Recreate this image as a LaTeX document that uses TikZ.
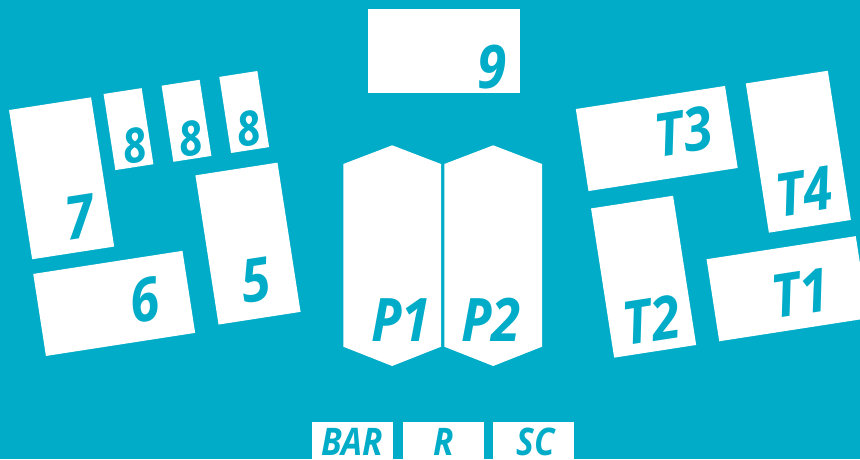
\documentclass[tikz,border=0pt]{standalone}
\usepackage{fontspec}
\setmainfont{Open Sans}
\definecolor{bg}{RGB}{0,172,199}
\tikzset{
  tile/.style={fill=white, draw=none, inner sep=0pt, minimum width=#1},
  tall/.style={fill=white, inner sep=0pt, minimum width=83pt, minimum height=151pt, rotate=8.8},
  wide/.style={fill=white, inner sep=0pt, minimum width=151pt, minimum height=83pt, rotate=8.8},
  small/.style={fill=white, inner sep=0pt, minimum width=38.5pt, minimum height=77pt, rotate=8.8},
  lbl/.style={text=bg, inner sep=0pt, font=\fontsize{60}{60}\selectfont\bfseries\itshape},
  slbl/.style={text=bg, inner sep=0pt, font=\fontsize{48}{48}\selectfont\bfseries\itshape},
  blbl/.style={text=bg, inner sep=0pt, font=\fontsize{38}{38}\selectfont\bfseries\itshape},
  rot/.style={rotate=8.8}
}
\newcommand{\sq}[1]{\scalebox{0.88}[1]{#1}}
\begin{document}
\begin{tikzpicture}[x=1pt,y=-1pt]
\useasboundingbox (0,0) rectangle (860,459);
\clip (0,0) rectangle (860,459);
\fill[bg] (0,0) rectangle (860,459);

% left group
\node[tall] (r7) at (61.6,178.3) {};
\node[small] (r8a) at (128.5,129.1) {};
\node[small] (r8b) at (186.5,120.8) {};
\node[small] (r8c) at (244.2,112) {};
\node[tall] (r5) at (248,243.6) {};
\node[wide] (r6) at (114.2,303.4) {};

\node[lbl,rot] (l7) at (80,217.3) {\sq{7}};
\node[slbl,rot] (l8a) at (134.2,145.7) {\sq{8}};
\node[slbl,rot] (l8b) at (190.8,138.3) {\sq{8}};
\node[slbl,rot] (l8c) at (248.3,128.3) {\sq{8}};
\node[lbl,rot] (l6) at (145,300) {\sq{6}};
\node[lbl,rot] (l5) at (255.8,280) {\sq{5}};

% centre
\fill[white] (368,9) rectangle (520,92.7);
\node[lbl] (l9) at (492.5,66.7) {\sq{9}};
\fill[white] (343.3,164) -- (392.2,145.3) -- (441,164) -- (441,346.7) -- (392.2,366) -- (343.3,346.7) -- cycle;
\fill[white] (444.3,164) -- (493.2,145.3) -- (542,164) -- (542,346.7) -- (493.2,366) -- (444.3,346.7) -- cycle;
\node[lbl] (lp1) at (401,320) {\sq{P1}};
\node[lbl] (lp2) at (491,320) {\sq{P2}};

% right group
\node[wide] (t3) at (656.75,138.5) {};
\node[tall] (t4) at (798.35,151.7) {};
\node[tall] (t2) at (643.6,276.7) {};
\node[wide] (t1) at (787.5,288.7) {};
\node[lbl,rot] (lt3) at (683.3,131.7) {\sq{T3}};
\node[lbl,rot] (lt4) at (804,191.7) {\sq{T4}};
\node[lbl,rot] (lt2) at (651.7,320) {\sq{T2}};
\node[lbl,rot] (lt1) at (800.7,293.3) {\sq{T1}};

% bottom
\fill[white] (312.3,422) rectangle (392.7,470);
\fill[white] (403.3,422) rectangle (483.7,470);
\fill[white] (493.3,422) rectangle (574,470);
\node[blbl] (lbar) at (352.5,442) {\sq{BAR}};
\node[blbl] (lr) at (443.3,442) {\sq{R}};
\node[blbl] (lsc) at (535.8,442) {\sq{SC}};
\end{tikzpicture}
\end{document}
